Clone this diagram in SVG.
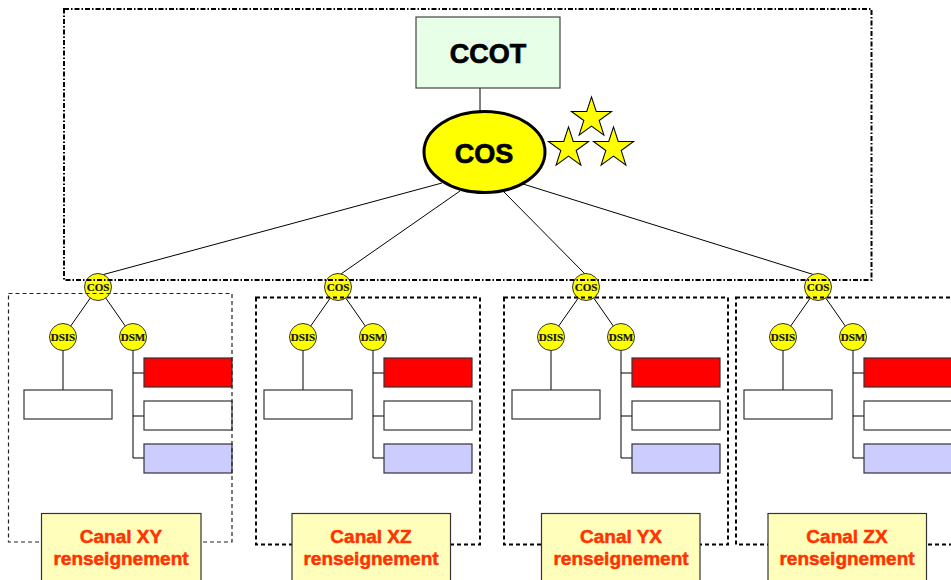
<svg xmlns="http://www.w3.org/2000/svg" xmlns:xlink="http://www.w3.org/1999/xlink" width="951" height="580" viewBox="0 0 951 580">
<style>
.ln{stroke:#000;stroke-width:1;fill:none}
.sn{fill:#ffff00;stroke:#333;stroke-width:1}
.st{font-family:"Liberation Serif",serif;font-weight:bold;font-size:11px;fill:#111;stroke:#111;stroke-width:0.2;text-anchor:middle}
.bx{stroke:#333;stroke-width:1.2}
.red{fill:#ff0000}
.wht{fill:#ffffff}
.lav{fill:#ccccff}
.canal{fill:#ffffbb;stroke:#333;stroke-width:1.2}
.ct{font-family:"Liberation Sans",Arial,sans-serif;font-weight:bold;font-size:19px;fill:#ff3300;stroke:#ff3300;stroke-width:0.5;text-anchor:middle}
.frame{fill:none;stroke:#000;stroke-width:2;stroke-dasharray:4,3}
.big{font-family:"Liberation Sans",Arial,sans-serif;font-weight:bold;font-size:27px;fill:#000;stroke:#000;stroke-width:0.7;text-anchor:middle}
</style>
<defs>
<polygon id="star" points="0,-20.5 4.6,-6.33 19.5,-6.33 7.45,2.42 12.05,16.58 0,7.83 -12.05,16.58 -7.45,2.42 -19.5,-6.33 -4.6,-6.33" fill="#ffff00" stroke="#000" stroke-width="1"/>
<g id="branch">
<line class="ln" x1="98" y1="287" x2="63" y2="337"/>
<line class="ln" x1="98" y1="287" x2="133" y2="337"/>
<line class="ln" x1="63" y1="337" x2="63" y2="390"/>
<polyline class="ln" points="133,337 133,458 144,458"/>
<line class="ln" x1="133" y1="373" x2="144" y2="373"/>
<line class="ln" x1="133" y1="416" x2="144" y2="416"/>
<rect class="bx wht" x="24" y="390" width="88" height="29"/>
<rect class="bx red" x="144" y="358" width="88" height="29"/>
<rect class="bx wht" x="144" y="401" width="88" height="29"/>
<rect class="bx lav" x="144" y="444" width="88" height="29"/>
<circle class="sn" cx="98" cy="287" r="13.5"/>
<text class="st" x="98" y="290.8">COS</text>
<circle class="sn" cx="63" cy="337" r="13.5"/>
<text class="st" x="63" y="340.8">DSIS</text>
<circle class="sn" cx="133" cy="337" r="13.5"/>
<text class="st" x="133" y="340.8">DSM</text>
</g>
</defs>

<g id="connectors">
<line class="ln" x1="480" y1="88" x2="480" y2="112"/>
<line class="ln" x1="442" y1="183" x2="98" y2="276"/>
<line class="ln" x1="460" y1="191" x2="338" y2="276"/>
<line class="ln" x1="503" y1="191" x2="587" y2="276"/>
<line class="ln" x1="523" y1="184" x2="818" y2="276"/>
</g>

<g id="ccot">
<rect x="416" y="17" width="144" height="71" fill="#e6ffe6" stroke="#444" stroke-width="1.2"/>
<text class="big" x="488" y="63">CCOT</text>
</g>

<g id="cos">
<ellipse cx="484.5" cy="152" rx="60.5" ry="40.5" fill="#ffff00" stroke="#000" stroke-width="3"/>
<text class="big" x="484" y="163">COS</text>
</g>

<g id="stars">
<use xlink:href="#star" transform="translate(591.5,118) scale(1.03)"/>
<use xlink:href="#star" transform="translate(568.5,148) scale(1.03)"/>
<use xlink:href="#star" transform="translate(613.5,148) scale(1.03)"/>
</g>

<g id="group-xy"><use xlink:href="#branch"/></g>
<g id="group-xz"><use xlink:href="#branch" transform="translate(240,0)"/></g>
<g id="group-yx"><use xlink:href="#branch" transform="translate(488,0)"/></g>
<g id="group-zx"><use xlink:href="#branch" transform="translate(720,0)"/></g>

<g id="frames">
<rect x="64" y="9" width="807.5" height="271" fill="none" stroke="#000" stroke-width="2" stroke-dasharray="5,2,1.5,2"/>
<rect x="8.5" y="293.5" width="223.5" height="248.5" fill="none" stroke="#222" stroke-width="1.2" stroke-dasharray="4,3"/>
<rect class="frame" x="256" y="297.5" width="224" height="247"/>
<rect class="frame" x="504" y="297.5" width="224" height="247"/>
<rect class="frame" x="736" y="297.5" width="230" height="247"/>
</g>

<g id="canal-xy">
<rect class="canal" x="41.5" y="513.5" width="159.5" height="80"/>
<text class="ct" x="121" y="543">Canal XY</text>
<text class="ct" x="121" y="565">renseignement</text>
</g>
<g id="canal-xz">
<rect class="canal" x="292" y="513.5" width="158.5" height="80"/>
<text class="ct" x="371" y="543">Canal XZ</text>
<text class="ct" x="371" y="565">renseignement</text>
</g>
<g id="canal-yx">
<rect class="canal" x="541.5" y="513.5" width="158.5" height="80"/>
<text class="ct" x="621" y="543">Canal YX</text>
<text class="ct" x="621" y="565">renseignement</text>
</g>
<g id="canal-zx">
<rect class="canal" x="768" y="513.5" width="158.5" height="80"/>
<text class="ct" x="847" y="543">Canal ZX</text>
<text class="ct" x="847" y="565">renseignement</text>
</g>
</svg>
